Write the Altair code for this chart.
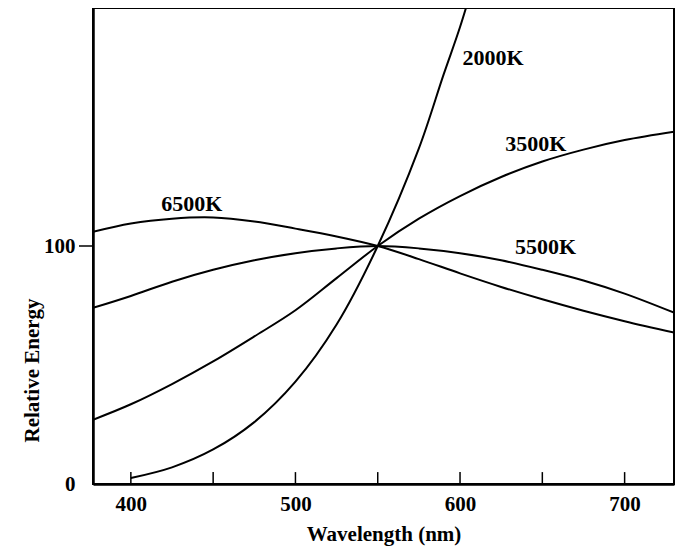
import altair as alt
import pandas as pd

# Wavelength grid (nm) and relative energy
wl_common = [377, 400, 425, 450, 475, 500, 525, 550, 575, 600, 625, 650, 675, 700, 730]
e_6500 = [106, 109.5, 111.5, 112, 110.3, 107.3, 104, 100, 94.5, 88.5, 82.8, 77.6, 72.8, 68.4, 63.6]
e_5500 = [74, 79, 85, 90, 94, 97, 99, 100, 99, 97, 94, 90, 85.5, 80, 72]
e_3500 = [27, 33.5, 42, 51.5, 62, 73, 86.5, 100, 111.5, 121, 129, 135.5, 140.5, 144.5, 148]
wl_2000 = [400, 425, 450, 475, 500, 525, 550, 575, 590, 600, 610]
e_2000 = [2.5, 7, 14.5, 26, 43, 67, 100, 141, 172, 192, 215]

label_text = ["6500K", "2000K", "3500K", "5500K"]
label_wl = [437, 620, 646, 652]
label_e = [117.5, 179, 143, 99.6]

minor_ticks = [400, 450, 500, 550, 600, 650, 700]
x_labels = [400, 500, 600, 700]
y_labels = [0, 100]

rows = []
for name, xs, ys in [("6500K", wl_common, e_6500), ("5500K", wl_common, e_5500),
                     ("3500K", wl_common, e_3500), ("2000K", wl_2000, e_2000)]:
    for x, y in zip(xs, ys):
        rows.append({"series": name, "wl": x, "e": y})
df = pd.DataFrame(rows)
lab = pd.DataFrame({"label": label_text, "wl": label_wl, "e": label_e})
ticks = pd.DataFrame({"wl": minor_ticks, "e": [0] * len(minor_ticks), "e2": [5] * len(minor_ticks)})
ytick_df = pd.DataFrame({"e": [100]})

FONT = "Liberation Serif"
xscale = alt.Scale(domain=[377, 730], nice=False, zero=False)
yscale = alt.Scale(domain=[0, 200], nice=False)

lines = alt.Chart(df).mark_line(color="black", strokeWidth=2, interpolate="catmull-rom", clip=True).encode(
    x=alt.X("wl:Q", scale=xscale,
            axis=alt.Axis(values=x_labels, ticks=False, grid=False, labelPadding=9,
                          title="Wavelength (nm)", titlePadding=9, format="d")),
    y=alt.Y("e:Q", scale=yscale,
            axis=alt.Axis(values=y_labels, ticks=False, grid=False, labelPadding=18,
                          title="Relative Energy", titleAngle=270, titleX=-61, titleY=362,
                          titleBaseline="middle")),
    detail="series:N",
)

inner_ticks = alt.Chart(ticks).mark_rule(color="black", strokeWidth=1.5).encode(
    x=alt.X("wl:Q", scale=xscale),
    y=alt.Y("e:Q", scale=yscale),
    y2="e2:Q",
)

ytick = alt.Chart(ytick_df).mark_rule(color="black", strokeWidth=1.5).encode(
    y=alt.Y("e:Q", scale=yscale),
    x=alt.value(-14),
    x2=alt.value(0),
)

texts = alt.Chart(lab).mark_text(font=FONT, fontWeight="bold", fontSize=22, color="black",
                                 align="center", baseline="middle").encode(
    x=alt.X("wl:Q", scale=xscale),
    y=alt.Y("e:Q", scale=yscale),
    text="label:N",
)

chart = alt.layer(lines, inner_ticks, ytick, texts).properties(
    width=581, height=476,
    autosize=alt.AutoSizeParams(type="none"),
    padding={"left": 85, "top": 0, "right": 4, "bottom": 64},
).configure_view(stroke="black", strokeWidth=2).configure_axis(
    labelFont=FONT, labelFontWeight="bold", labelFontSize=21, labelColor="black",
    titleFont=FONT, titleFontWeight="bold", titleFontSize=21, titleColor="black",
    domainColor="black", domainWidth=2.5,
)

chart.save("out.html", embed_options={"renderer": "svg", "actions": False})
